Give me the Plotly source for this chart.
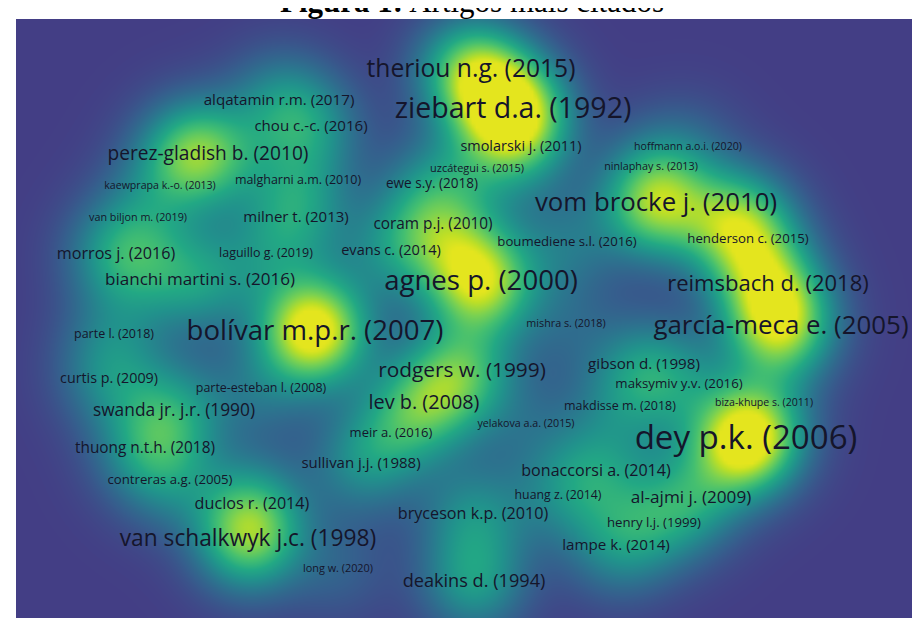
import numpy as np
import plotly.graph_objects as go

# ---- data: items of the VOSviewer density map (map coordinates, citations) ----
labels = [
    "theriou n.g. (2015)", "ziebart d.a. (1992)", "vom brocke j. (2010)", "agnes p. (2000)",
    "bolívar m.p.r. (2007)", "garcía-meca e. (2005)", "reimsbach d. (2018)", "dey p.k. (2006)",
    "van schalkwyk j.c. (1998)", "perez-gladish b. (2010)", "rodgers w. (1999)", "lev b. (2008)",
    "bianchi martini s. (2016)", "morros j. (2016)", "swanda jr. j.r. (1990)", "milner t. (2013)",
    "coram p.j. (2010)", "evans c. (2014)", "alqatamin r.m. (2017)", "chou c.-c. (2016)",
    "duclos r. (2014)", "sullivan j.j. (1988)", "thuong n.t.h. (2018)", "bonaccorsi a. (2014)",
    "al-ajmi j. (2009)", "bryceson k.p. (2010)", "deakins d. (1994)", "lampe k. (2014)",
    "henderson c. (2015)", "gibson d. (1998)", "smolarski j. (2011)", "ewe s.y. (2018)",
    "malgharni a.m. (2010)", "laguillo g. (2019)", "boumediene s.l. (2016)", "curtis p. (2009)",
    "parte-esteban l. (2008)", "maksymiv y.v. (2016)", "makdisse m. (2018)", "contreras a.g. (2005)",
    "meir a. (2016)", "hoffmann a.o.i. (2020)", "ninlaphay s. (2013)", "uzcátegui s. (2015)",
    "kaewprapa k.-o. (2013)", "van biljon m. (2019)", "parte l. (2018)", "mishra s. (2018)",
    "biza-khupe s. (2011)", "yelakova a.a. (2015)", "huang z. (2014)", "henry l.j. (1999)",
    "long w. (2020)",
]
item_x = [
    463, 505, 648, 473, 307, 773, 760, 738, 240, 200, 454, 416,
    192, 108, 166, 288, 425, 383, 271, 303, 244, 353, 137, 588,
    683, 465, 466, 608, 740, 636, 513, 424, 290, 258, 559, 101,
    253, 671, 612, 162, 383, 680, 643, 469, 152, 130, 106, 558,
    756, 518, 550, 646, 330,
]
item_y = [
    63, 103, 197, 275, 325, 320, 277, 433, 532, 147, 364, 396,
    273, 247, 404, 210, 217, 243, 93, 119, 497, 456, 441, 464,
    491, 507, 574, 538, 232, 357, 139, 177, 173, 246, 235, 371,
    381, 377, 399, 473, 426, 139, 159, 161, 178, 210, 327, 316,
    395, 416, 488, 516, 561,
]
citations = [
    207, 250, 220, 240, 240, 221, 178, 301, 186, 146, 165, 154,
    123, 113, 126, 100, 104, 95, 102, 101, 113, 100, 104, 112,
    124, 113, 135, 102, 80, 102, 94, 84, 72, 72, 80, 92,
    72, 81, 72, 80, 78, 51, 53, 55, 51, 53, 72, 53,
    51, 52, 70, 80, 54,
]
# items whose labels are hidden by the map (overlap) but still add density
hidden_x = [728, 178, 140, 452, 300, 485]
hidden_y = [214, 142, 258, 240, 312, 80]
hidden_w = [190, 110, 70, 80, 90, 50]

# ---- density surface (gaussian kernel over items) ----
gx = np.arange(8, 922, 4.0)
gy = np.arange(11, 620, 4.0)
GX, GY = np.meshgrid(gx, gy)
sigma = 37.0
pts_x = np.array(item_x + hidden_x, dtype=float)
pts_y = np.array(item_y + hidden_y, dtype=float)
pts_w = np.array(citations + hidden_w, dtype=float) ** 1.15
dens = np.zeros_like(GX)
for px, py, pw in zip(pts_x, pts_y, pts_w):
    dens += pw * np.exp(-((GX - px) ** 2 + (GY - py) ** 2) / (2 * sigma ** 2))
dens = np.clip(dens / (0.7 * dens.max()), 0, 1)

colorscale = [
    [0.0, "#433E85"], [0.026, "#414487"], [0.154, "#355F8D"], [0.282, "#2A788E"],
    [0.410, "#21918C"], [0.538, "#22A884"], [0.667, "#44BF70"], [0.795, "#7AD151"],
    [0.923, "#BDDF26"], [1.0, "#E4E51E"],
]

fig = go.Figure()
fig.add_trace(go.Heatmap(
    x=gx, y=gy, z=dens, colorscale=colorscale, zmin=0, zmax=1,
    zsmooth="best", showscale=False, hoverinfo="skip",
))
sizes = [6 + 0.09 * c for c in citations]
fig.add_trace(go.Scatter(
    x=item_x, y=item_y, mode="text", text=labels, textposition="middle center",
    textfont=dict(family="Open Sans", size=sizes, color="#15152b"),
    hoverinfo="text", showlegend=False,
))

fig.add_annotation(
    text="<b>Figura 1:</b> Artigos mais citados", xref="paper", yref="paper",
    x=0.5, y=1, xanchor="center", yanchor="bottom", yshift=-2, showarrow=False,
    font=dict(family="Liberation Serif", size=31, color="#000000"),
)

fig.update_xaxes(range=[8, 920], visible=False, showgrid=False, zeroline=False)
fig.update_yaxes(range=[616, 11], visible=False, showgrid=False, zeroline=False)
fig.update_layout(
    width=920, height=618, margin=dict(l=8, r=0, t=11, b=2),
    paper_bgcolor="white", plot_bgcolor="#433E85", showlegend=False,
)
fig.write_html("out.html")
